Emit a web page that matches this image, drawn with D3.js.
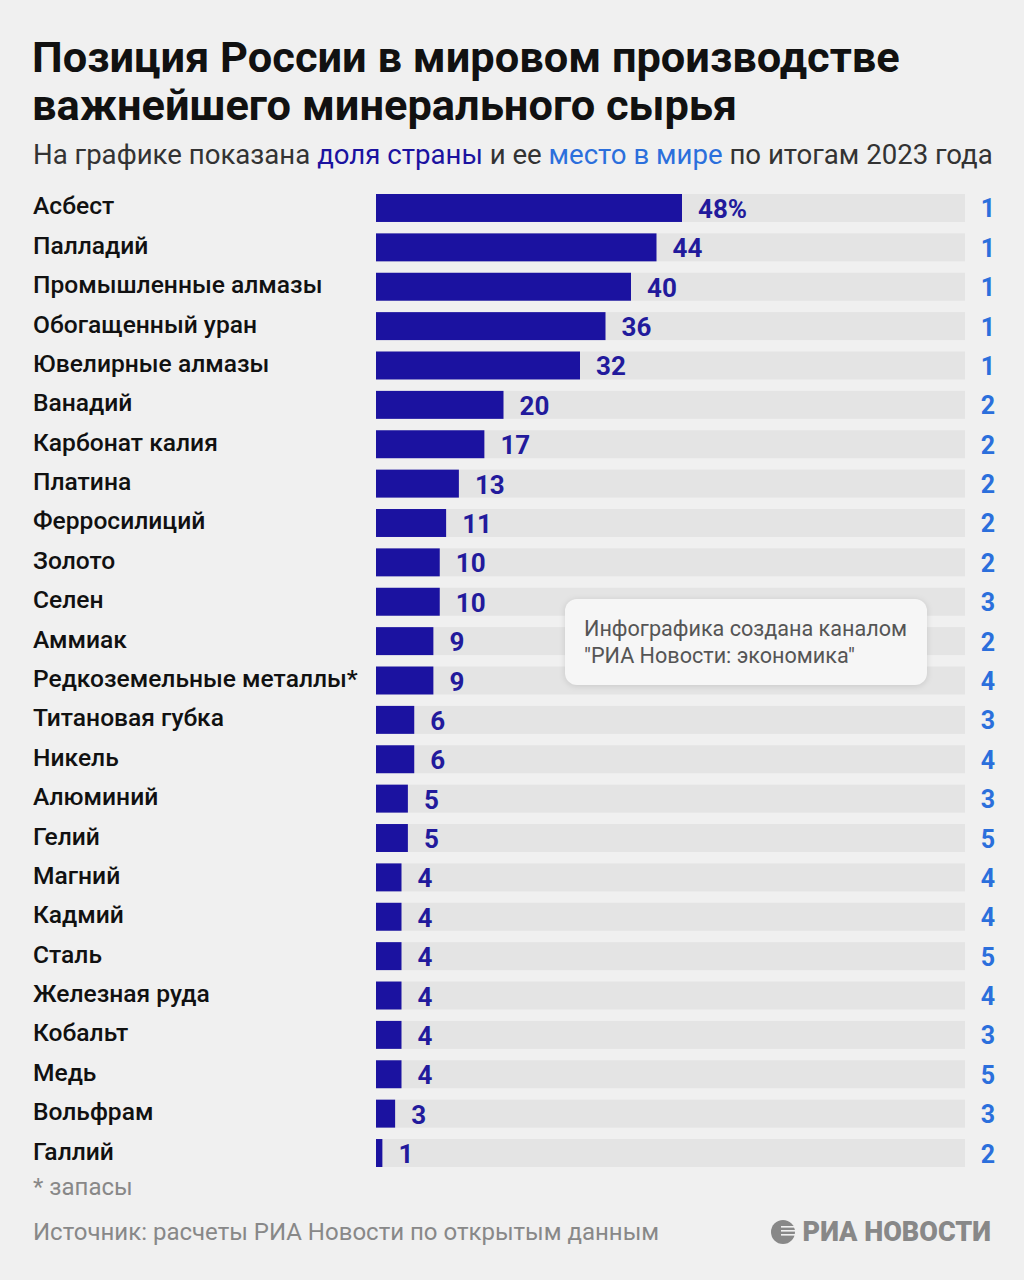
<!DOCTYPE html>
<html>
<head>
<meta charset="utf-8">
<script src="https://cdn.jsdelivr.net/npm/d3@7"></script>
<style>
  body { margin: 0; background: #f0f0f0; }
  svg { display: block; font-family: Roboto, "Noto Sans", sans-serif; }
</style>
</head>
<body>
<svg id="chart" width="1024" height="1280"></svg>
<script>
// data
const minerals = ["Асбест", "Палладий", "Промышленные алмазы", "Обогащенный уран", "Ювелирные алмазы",
  "Ванадий", "Карбонат калия", "Платина", "Ферросилиций", "Золото", "Селен", "Аммиак",
  "Редкоземельные металлы*", "Титановая губка", "Никель", "Алюминий", "Гелий", "Магний",
  "Кадмий", "Сталь", "Железная руда", "Кобальт", "Медь", "Вольфрам", "Галлий"];
const shares = [48, 44, 40, 36, 32, 20, 17, 13, 11, 10, 10, 9, 9, 6, 6, 5, 5, 4, 4, 4, 4, 4, 4, 3, 1];
const ranks = [1, 1, 1, 1, 1, 2, 2, 2, 2, 2, 3, 2, 4, 3, 4, 3, 5, 4, 4, 5, 4, 3, 5, 3, 2];

const rows = minerals.map((m, i) => ({ name: m, share: shares[i], rank: ranks[i] }));

const svg = d3.select('#chart');
const barColor = '#1b12a0';
const rankColor = '#2b6fdc';

// title
const title = svg.append('g').attr('font-weight', 700).attr('fill', '#111');
title.append('text').attr('x', 32).attr('y', 72).attr('font-size', 43.4).text('Позиция России в мировом производстве');
title.append('text').attr('x', 32).attr('y', 120).attr('font-size', 43.4).text('важнейшего минерального сырья');

const sub = svg.append('text').attr('x', 33).attr('y', 164).attr('font-size', 27.6).attr('fill', '#333');
sub.append('tspan').text('На графике показана ');
sub.append('tspan').attr('fill', barColor).text('доля страны');
sub.append('tspan').text(' и ее ');
sub.append('tspan').attr('fill', rankColor).text('место в мире');
sub.append('tspan').text(' по итогам 2023 года');

// scales
const y = d3.scaleBand()
  .domain(minerals)
  .range([188.3, 1172.7])
  .paddingInner(0.29)
  .paddingOuter(0.145);

const x = d3.scaleLinear().domain([0, 48]).range([376, 682]);
const trackEnd = 965;

const g = svg.append('g');

const row = g.selectAll('g.row').data(rows).enter().append('g').attr('class', 'row');

row.append('rect')
  .attr('x', x(0)).attr('y', d => y(d.name))
  .attr('width', trackEnd - x(0)).attr('height', y.bandwidth())
  .attr('fill', '#e4e4e4');

row.append('rect')
  .attr('x', x(0)).attr('y', d => y(d.name))
  .attr('width', d => x(d.share) - x(0)).attr('height', y.bandwidth())
  .attr('fill', barColor);

row.append('text')
  .attr('x', 33).attr('y', d => y(d.name) + y.bandwidth() / 2 - 2)
  .attr('dominant-baseline', 'central')
  .attr('font-size', 24.6).attr('font-weight', 500).attr('fill', '#111')
  .text(d => d.name);

row.append('text')
  .attr('x', d => x(d.share) + 16).attr('y', d => y(d.name) + y.bandwidth() / 2 + 1)
  .attr('dominant-baseline', 'central')
  .attr('font-size', 26).attr('font-weight', 700).attr('fill', '#221a9c')
  .text((d, i) => i === 0 ? d.share + '%' : d.share);

row.append('text')
  .attr('x', 988).attr('y', d => y(d.name) + y.bandwidth() / 2 + 1)
  .attr('text-anchor', 'middle')
  .attr('dominant-baseline', 'central')
  .attr('font-size', 25).attr('font-weight', 700).attr('fill', rankColor)
  .text(d => d.rank);

// the channel note box
const note = svg.append('g');
note.append('rect')
  .attr('x', 565).attr('y', 599).attr('width', 362).attr('height', 86).attr('rx', 12)
  .attr('fill', '#f6f6f6')
  .style('filter', 'drop-shadow(0 1px 3px rgba(0,0,0,0.12))');
note.append('text').attr('x', 584).attr('y', 636).attr('font-size', 21.6).attr('fill', '#555')
  .text('Инфографика создана каналом');
note.append('text').attr('x', 584).attr('y', 663).attr('font-size', 21.6).attr('fill', '#555')
  .text('"РИА Новости: экономика"');

// footnote and source
svg.append('text').attr('x', 33).attr('y', 1195).attr('font-size', 24).attr('fill', '#888').text('* запасы');
svg.append('text').attr('x', 33).attr('y', 1240).attr('font-size', 24).attr('fill', '#888')
  .text('Источник: расчеты РИА Новости по открытым данным');

// logo
const logo = svg.append('g').attr('fill', '#888');
logo.append('circle').attr('cx', 783).attr('cy', 1232).attr('r', 12);
[-6, -2, 2].forEach(dy => {
  logo.append('rect').attr('x', 783 - 2).attr('y', 1232 + dy).attr('width', 14).attr('height', 1.6).attr('fill', '#f0f0f0');
});
logo.append('text').attr('x', 991).attr('y', 1241).attr('text-anchor', 'end')
  .attr('font-size', 27).attr('font-weight', 900).text('РИА НОВОСТИ');
</script>
</body>
</html>
